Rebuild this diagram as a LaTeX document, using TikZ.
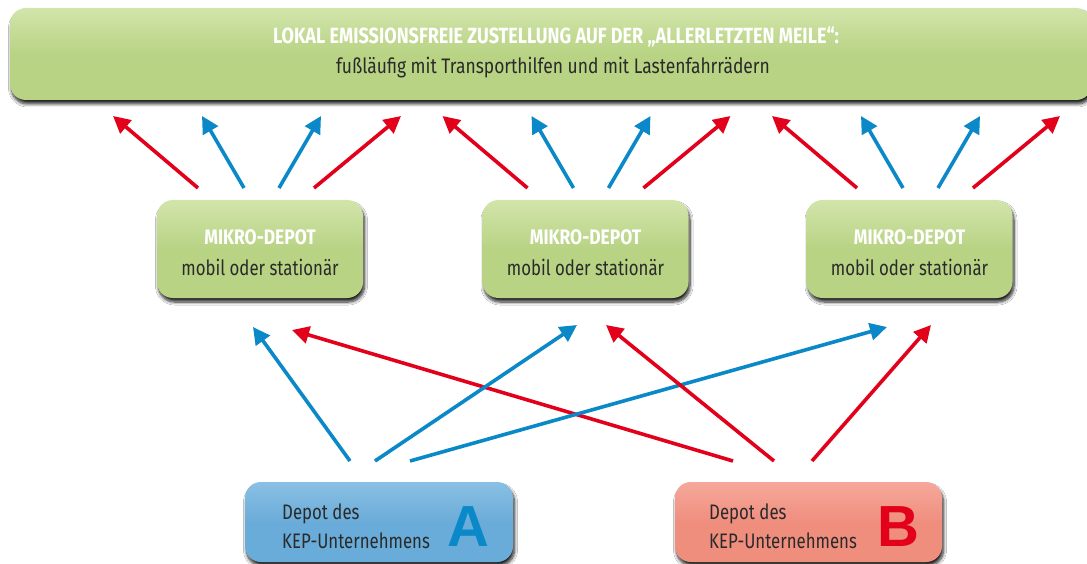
\documentclass[tikz,border=0pt]{standalone}
\usepackage{fontspec}
\setmainfont[FakeStretch=0.8]{Fira Sans}
\newfontfamily\captopf[FakeStretch=0.82]{Fira Sans}
\newfontfamily\subtopf[FakeStretch=0.83]{Fira Sans}
\newfontfamily\capmidf[FakeStretch=0.83]{Fira Sans}
\newfontfamily\submidf[FakeStretch=0.8]{Fira Sans}
\newfontfamily\letterf{Liberation Sans}
\usetikzlibrary{arrows.meta,shadows.blur}
\definecolor{grfill}{HTML}{B8D384}
\definecolor{grtop}{HTML}{D2E5AB}
\definecolor{blfill}{HTML}{6AACD9}
\definecolor{bltop}{HTML}{8AC0E4}
\definecolor{rdfill}{HTML}{F08E7E}
\definecolor{rdtop}{HTML}{F5A89B}
\definecolor{arblue}{HTML}{0A88C8}
\definecolor{arred}{HTML}{E2001A}
\definecolor{txtdark}{HTML}{2A2A2A}
\tikzset{
  boxshadow/.style={blur shadow={shadow xshift=1.5pt,shadow yshift=-4pt,shadow blur steps=8,shadow opacity=85,shadow blur radius=3pt}},
  greenbox/.style={boxshadow,rounded corners=16pt,top color=grtop,bottom color=grfill,middle color=grfill,draw=none,inner sep=0pt},
  bluebox/.style={boxshadow,rounded corners=16pt,top color=bltop,bottom color=blfill,middle color=blfill,draw=none,inner sep=0pt},
  redbox/.style={boxshadow,rounded corners=16pt,top color=rdtop,bottom color=rdfill,middle color=rdfill,draw=none,inner sep=0pt},
  toptxta/.style={text=white,font=\captopf\fontsize{22}{26}\selectfont\bfseries,inner sep=0pt},
  toptxtb/.style={text=txtdark,font=\subtopf\fontsize{21}{25}\selectfont,inner sep=0pt},
  midtxta/.style={text=white,font=\capmidf\fontsize{21}{25}\selectfont\bfseries,inner sep=0pt},
  midtxtb/.style={text=txtdark,font=\submidf\fontsize{21}{25}\selectfont,inner sep=0pt},
  deptxt/.style={text=txtdark,font=\fontsize{21}{29}\selectfont,inner sep=0pt,align=left,anchor=west},
  lettertxt/.style={font=\letterf\fontsize{58}{58}\selectfont\bfseries,inner sep=0pt},
  blarrow/.style={draw=arblue,line width=3.6pt,-{Triangle[length=17pt,width=17pt]}},
  rdarrow/.style={draw=arred,line width=3.6pt,-{Triangle[length=17pt,width=17pt]}},
}
\begin{document}
\begin{tikzpicture}[x=1pt,y=-1pt]
\useasboundingbox[fill=white] (0,0) rectangle (1087,564);
% top box
\node[greenbox,minimum width=1082pt,minimum height=92pt] (top) at (551,54) {};
\node[toptxta] (topa) at (556,37) {LOKAL EMISSIONSFREIE ZUSTELLUNG AUF DER „ALLERLETZTEN MEILE“:};
\node[toptxtb] (topb) at (553,68) {fußläufig mit Transporthilfen und mit Lastenfahrrädern};
% micro depots
\foreach \n/\cx in {1/260,2/585.5,3/909.5}{
  \node[greenbox,minimum width=206pt,minimum height=98pt] (m\n) at (\cx,249) {};
  \node[midtxta] (m\n a) at (\cx,237) {MIKRO-DEPOT};
  \node[midtxtb] (m\n b) at (\cx,267) {mobil oder stationär};
}
% depots A and B
\node[bluebox,minimum width=268pt,minimum height=80pt] (dA) at (379,522) {};
\node[deptxt] (dAt) at (282,526) {Depot des\\KEP-Unternehmens};
\node[lettertxt,text=arblue] (dAl) at (468,527) {A};
\node[redbox,minimum width=267pt,minimum height=80pt] (dB) at (808.5,522) {};
\node[deptxt] (dBt) at (709,526) {Depot des\\KEP-Unternehmens};
\node[lettertxt,text=arred] (dBl) at (898,527) {B};
% top arrows
\foreach \g/\dx in {1/0,2/329.5,3/659}{
  \coordinate (r\g s) at (198+\dx,188); \coordinate (r\g e) at (113+\dx,116);
  \coordinate (b\g s) at (244+\dx,188); \coordinate (b\g e) at (202+\dx,116);
  \coordinate (c\g s) at (279+\dx,188); \coordinate (c\g e) at (321+\dx,116);
  \coordinate (q\g s) at (314+\dx,188); \coordinate (q\g e) at (401+\dx,116);
  \draw[rdarrow] (r\g s) -- (r\g e);
  \draw[blarrow] (b\g s) -- (b\g e);
  \draw[blarrow] (c\g s) -- (c\g e);
  \draw[rdarrow] (q\g s) -- (q\g e);
}
% bottom arrows
\coordinate (a1) at (350,461); \coordinate (a1e) at (253,327);
\coordinate (a2) at (375,461); \coordinate (a2e) at (577,325);
\coordinate (a3) at (410,461); \coordinate (a3e) at (887,327);
\coordinate (bb1) at (733,461); \coordinate (bb1e) at (292,330);
\coordinate (bb2) at (774,461); \coordinate (bb2e) at (606,325);
\coordinate (bb3) at (812,461); \coordinate (bb3e) at (931,325);
\draw[blarrow] (a1) -- (a1e);
\draw[rdarrow] (bb1) -- (bb1e);
\draw[blarrow] (a2) -- (a2e);
\draw[blarrow] (a3) -- (a3e);
\draw[rdarrow] (bb2) -- (bb2e);
\draw[rdarrow] (bb3) -- (bb3e);
\end{tikzpicture}
\end{document}
